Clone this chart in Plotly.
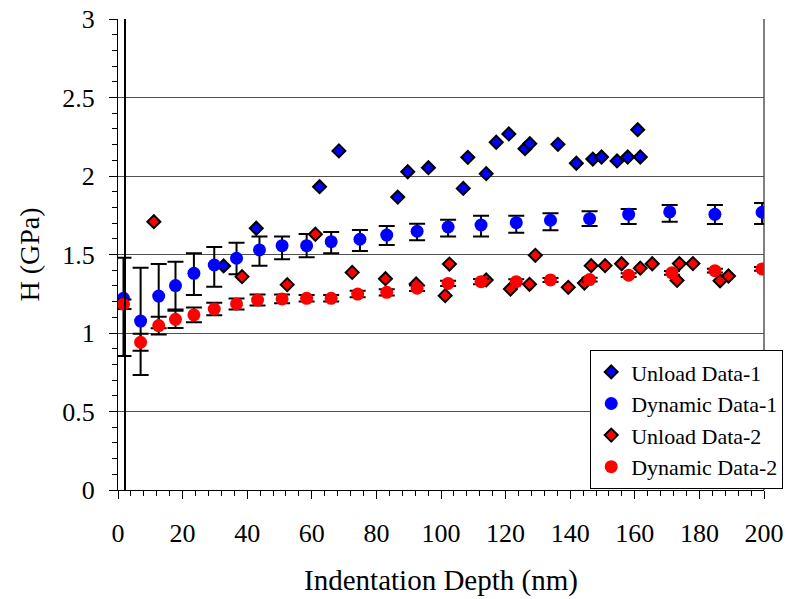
import plotly.graph_objects as go

# ---------------- data ----------------
unload1_x = [32.7, 42.8, 62.4, 68.4, 86.6, 89.7, 96.1, 106.9, 108.3, 114.0, 117.1,
             121.0, 126.0, 127.5, 136.2, 141.9, 147.0, 149.7, 154.5, 157.8, 160.9, 161.7]
unload1_y = [1.427, 1.667, 1.932, 2.160, 1.866, 2.027, 2.053, 1.921, 2.119, 2.015, 2.215,
             2.268, 2.174, 2.206, 2.202, 2.081, 2.108, 2.121, 2.096, 2.121, 2.295, 2.121]

dyn1_x = [1.7, 7.0, 12.6, 17.8, 23.5, 29.8, 36.7, 43.8, 50.8, 58.4, 66.0, 74.9,
          83.2, 92.6, 102.2, 112.4, 123.3, 133.9, 146.0, 158.1, 170.8, 184.8, 199.4]
dyn1_y = [1.221, 1.076, 1.235, 1.302, 1.380, 1.433, 1.476, 1.529, 1.556, 1.556, 1.582, 1.597,
          1.624, 1.648, 1.675, 1.688, 1.703, 1.718, 1.728, 1.756, 1.771, 1.756, 1.769]
dyn1_top = [1.480, 1.416, 1.439, 1.454, 1.508, 1.548, 1.575, 1.614, 1.614, 1.631, 1.643, 1.656,
            1.682, 1.696, 1.722, 1.747, 1.747, 1.762, 1.775, 1.790, 1.815, 1.815, 1.828]
dyn1_bot = [0.854, 0.732, 1.030, 1.150, 1.242, 1.295, 1.374, 1.429, 1.469, 1.482, 1.508, 1.522,
            1.561, 1.590, 1.614, 1.614, 1.639, 1.654, 1.682, 1.694, 1.709, 1.694, 1.694]

unload2_x = [11.1, 38.4, 52.4, 61.1, 72.5, 82.8, 92.3, 101.3, 102.6, 114.0, 121.5, 127.4, 129.2,
             139.4, 144.4, 146.5, 150.8, 155.9, 161.7, 165.4, 173.1, 173.8, 178.0, 186.4, 189.0]
unload2_y = [1.709, 1.359, 1.308, 1.629, 1.386, 1.346, 1.312, 1.238, 1.439, 1.338, 1.280, 1.310, 1.495,
             1.291, 1.318, 1.429, 1.429, 1.441, 1.413, 1.441, 1.335, 1.442, 1.442, 1.333, 1.363]

dyn2_x = [1.7, 7.0, 12.6, 17.8, 23.5, 29.8, 36.7, 43.2, 50.8, 58.4, 66.0, 74.2,
          83.2, 92.6, 102.2, 112.4, 123.3, 133.9, 146.0, 158.1, 171.5, 184.8, 199.4]
dyn2_y = [1.183, 0.941, 1.047, 1.087, 1.115, 1.153, 1.185, 1.210, 1.217, 1.221, 1.221, 1.248,
          1.259, 1.285, 1.316, 1.327, 1.327, 1.338, 1.340, 1.368, 1.383, 1.397, 1.408]
dyn2_err = [0.030, 0.054, 0.057, 0.055, 0.047, 0.040, 0.035, 0.035, 0.028, 0.021, 0.021, 0.021,
            0.020, 0.018, 0.017, 0.017, 0.015, 0.013, 0.012, 0.012, 0.012, 0.012, 0.012]

x_title = "Indentation Depth (nm)"
y_title = "H (GPa)"
names = ["Unload Data-1", "Dynamic Data-1", "Unload Data-2", "Dynamic Data-2"]

# ---------------- figure ----------------
FONT = "'Liberation Serif', 'Times New Roman', serif"
fig = go.Figure()

fig.add_trace(go.Scatter(
    x=unload1_x, y=unload1_y, mode="markers", name=names[0],
    marker=dict(symbol="diamond", size=10, color="#0000FF",
                line=dict(color="black", width=2))))

fig.add_trace(go.Scatter(
    x=dyn1_x, y=dyn1_y, mode="markers", name=names[1],
    marker=dict(symbol="circle", size=13, color="#0000FF"),
    error_y=dict(type="data", symmetric=False,
                 array=[t - v for t, v in zip(dyn1_top, dyn1_y)],
                 arrayminus=[v - b for v, b in zip(dyn1_y, dyn1_bot)],
                 color="black", thickness=2, width=8)))

fig.add_trace(go.Scatter(
    x=unload2_x, y=unload2_y, mode="markers", name=names[2],
    marker=dict(symbol="diamond", size=10, color="#FF0000",
                line=dict(color="black", width=2))))

fig.add_trace(go.Scatter(
    x=dyn2_x, y=dyn2_y, mode="markers", name=names[3],
    marker=dict(symbol="circle", size=13, color="#FF0000"),
    error_y=dict(type="data", array=dyn2_err,
                 color="black", thickness=2, width=8)))

fig.update_layout(
    width=798, height=599,
    margin=dict(l=118, r=34, t=19, b=109, autoexpand=False),
    paper_bgcolor="white", plot_bgcolor="white",
    font=dict(family=FONT, color="black", size=26),
    showlegend=True,
    legend=dict(x=0.731, y=0.297, xanchor="left", yanchor="top",
                bgcolor="white", bordercolor="black", borderwidth=1,
                font=dict(family=FONT, size=22, color="black"),
                itemsizing="trace", tracegroupgap=0),
    xaxis=dict(range=[0, 200], dtick=20, tick0=0, automargin=False,
               showgrid=False, zeroline=False,
               showline=True, linecolor="black", linewidth=1,
               ticks="outside", ticklen=8, tickwidth=1, tickcolor="black",
               minor=dict(dtick=4, ticks="outside", ticklen=5, tickcolor="black", showgrid=False),
               tickfont=dict(family=FONT, size=26),
               ticklabelstandoff=12,
               title=dict(text=x_title, font=dict(family=FONT, size=29), standoff=22)),
    yaxis=dict(range=[0, 3], dtick=0.5, tick0=0, automargin=False,
               showgrid=True, gridcolor="#505050", gridwidth=1,
               zeroline=False,
               showline=True, linecolor="black", linewidth=1,
               ticks="outside", ticklen=8, tickwidth=1, tickcolor="black",
               minor=dict(dtick=0.1, ticks="outside", ticklen=5, tickcolor="black", showgrid=False),
               tickfont=dict(family=FONT, size=26),
               ticklabelstandoff=9,
               title=dict(text=y_title, font=dict(family=FONT, size=28), standoff=14)),
    yaxis2=dict(range=[0, 3], overlaying="y", anchor="free", position=0.0116,
                showline=True, linecolor="black", linewidth=2, automargin=False,
                showticklabels=False, ticks="", showgrid=False, zeroline=False),
    shapes=[dict(type="line", xref="paper", yref="paper", x0=1, x1=1, y0=0, y1=1,
                 line=dict(color="#808080", width=2), layer="below")],
)

# invisible trace on yaxis2 so the extra vertical line is rendered
fig.add_trace(go.Scatter(x=[None], y=[None], yaxis="y2", showlegend=False, hoverinfo="skip"))

fig.write_html("out.html", config={"displayModeBar": False},
               post_script="document.body.style.margin='0';")
